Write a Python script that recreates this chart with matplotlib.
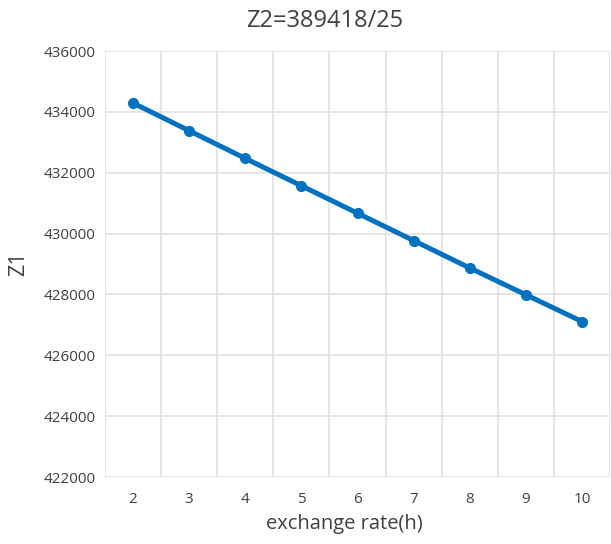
import matplotlib.pyplot as plt

# exchange rate (h) vs objective Z1, with Z2 fixed
rate_h = [2, 3, 4, 5, 6, 7, 8, 9, 10]
z1 = [434290, 433380, 432470, 431570, 430670, 429770, 428870, 427990, 427110]
yticks = [422000, 424000, 426000, 428000, 430000, 432000, 434000, 436000]

plt.rcParams['font.family'] = ['Open Sans', 'DejaVu Sans']
text_color = '#404040'

fig = plt.figure(figsize=(6.11, 5.44), dpi=100)
ax = fig.add_axes([105 / 611, 1 - 477 / 544, 505 / 611, 426 / 544])

ax.plot(rate_h, z1, color='#0070C0', lw=3.6, marker='o', ms=7, zorder=3)

ax.set_xlim(1.5, 10.5)
ax.set_ylim(422000, 436000)
ax.set_xticks(rate_h)
ax.set_yticks(yticks)
ax.set_yticklabels([str(v) for v in yticks])

# category gridlines sit between the ticks
for xv in [r - 0.5 for r in rate_h] + [rate_h[-1] + 0.5]:
    ax.axvline(xv, color='#e2e2e2', lw=1.2, zorder=1)
for yv in yticks:
    ax.axhline(yv, color='#e2e2e2', lw=1.2, zorder=1)

for s in ax.spines.values():
    s.set_visible(False)
ax.tick_params(length=0, labelsize=11, colors=text_color)
ax.tick_params(axis='x', pad=11)
ax.tick_params(axis='y', pad=7)

ax.set_xlabel('exchange rate(h)', fontsize=14.5, color=text_color)
ax.xaxis.set_label_coords(0.474, -0.086)
ax.set_ylabel('Z1', fontsize=15.5, color=text_color, labelpad=10)
fig.text(0.532, 0.961, 'Z2=389418/25', fontsize=17, color=text_color,
         ha='center', va='center')

fig.savefig('out.png', dpi=100)
